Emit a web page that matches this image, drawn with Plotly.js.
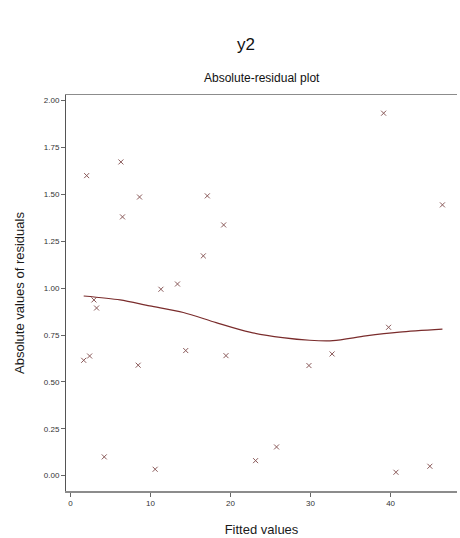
<!DOCTYPE html>
<html>
<head>
<meta charset="utf-8">
<script src="https://cdn.plot.ly/plotly-3.0.1.min.js"></script>
<style>html,body{margin:0;padding:0;background:#fff;}#chart{width:460px;height:538px;}</style>
</head>
<body>
<div id="chart"></div>
<script>
// Scatter: fitted values vs absolute residuals
const fittedValues = [2.02, 6.30, 8.63, 6.50, 11.30, 2.93, 3.26, 1.65, 2.39, 8.46, 4.22, 10.58,
  17.10, 19.14, 16.60, 13.37, 14.40, 19.43, 29.80, 23.13, 25.75, 39.13, 46.48, 39.75, 32.69, 40.67, 44.91];
const absResiduals = [1.60, 1.673, 1.486, 1.38, 0.994, 0.937, 0.894, 0.615, 0.638, 0.589, 0.10, 0.034,
  1.492, 1.337, 1.172, 1.022, 0.667, 0.640, 0.587, 0.080, 0.153, 1.933, 1.444, 0.791, 0.649, 0.018, 0.050];
// Lowess smooth curve
const smoothX = [1.65, 6.2, 9.9, 14.1, 18.2, 22.4, 26.5, 29.9, 32.8, 36.9, 41.1, 46.48];
const smoothY = [0.958, 0.937, 0.905, 0.870, 0.816, 0.765, 0.736, 0.722, 0.720, 0.745, 0.765, 0.781];

const yTickVals = [0, 0.25, 0.5, 0.75, 1.0, 1.25, 1.5, 1.75, 2.0];
const xTickVals = [0, 10, 20, 30, 40];

const data = [
  {x: fittedValues, y: absResiduals, type: 'scatter', mode: 'markers',
   marker: {symbol: 'x-thin', size: 5, color: '#8a5a5a', line: {width: 1, color: '#8a5a5a'}},
   hoverinfo: 'skip'},
  {x: smoothX, y: smoothY, type: 'scatter', mode: 'lines',
   line: {color: '#7a2c2c', width: 1.2, shape: 'spline', smoothing: 0.8}, hoverinfo: 'skip'}
];

const layout = {
  width: 460, height: 538,
  margin: {l: 66, r: 3, t: 95, b: 47},
  paper_bgcolor: '#fff', plot_bgcolor: '#fff',
  showlegend: false,
  font: {family: 'Liberation Sans, Arial, sans-serif', color: '#222'},
  xaxis: {
    range: [-0.56, 48.3], tickvals: xTickVals, ticks: 'outside', ticklen: 4, tickwidth: 1,
    tickcolor: '#666', showgrid: false, zeroline: false, showline: true, linecolor: '#8c8c8c',
    linewidth: 1.5, mirror: true, tickfont: {size: 8, color: '#333'},
    title: {text: 'Fitted values', font: {size: 13, color: '#1a1a1a'}, standoff: 18}
  },
  yaxis: {
    range: [-0.082, 2.03], tickvals: yTickVals, tickformat: '.2f', ticks: 'outside', ticklen: 4,
    tickwidth: 1, tickcolor: '#666', showgrid: false, zeroline: false, showline: true,
    linecolor: '#555', linewidth: 1, tickfont: {size: 8, color: '#333'},
    title: {text: 'Absolute values of residuals', font: {size: 13, color: '#1a1a1a'}, standoff: 16}
  },
  annotations: [
    {text: 'y2', xref: 'paper', yref: 'paper', x: (246-66)/391, y: (538-47-45)/396,
     xanchor: 'center', yanchor: 'middle', showarrow: false, font: {size: 17, color: '#111'}},
    {text: 'Absolute-residual plot', xref: 'paper', yref: 'paper', x: 0.5, y: (538-47-78)/396,
     xanchor: 'center', yanchor: 'middle', showarrow: false, font: {size: 12, color: '#111'}}
  ]
};

Plotly.newPlot('chart', data, layout, {displayModeBar: false, staticPlot: true});
</script>
</body>
</html>
